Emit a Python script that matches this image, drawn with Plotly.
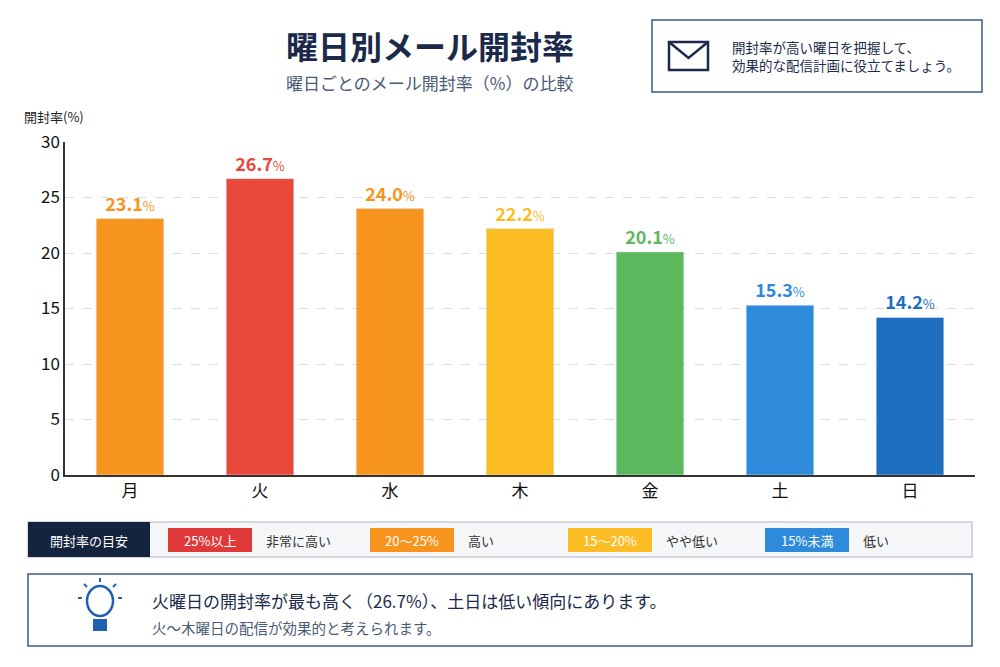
import plotly.graph_objects as go

days = ["月", "火", "水", "木", "金", "土", "日"]
rates = [23.1, 26.7, 24.0, 22.2, 20.1, 15.3, 14.2]
colors = ["#F7941D", "#E8473A", "#F7941D", "#FBBC24", "#5CB85C", "#2E8BDB", "#1E6FC0"]
legend_labels = ["25%以上", "20～25%", "15～20%", "15%未満"]
legend_desc = ["非常に高い", "高い", "やや低い", "低い"]
legend_colors = ["#E0393A", "#F7941D", "#FBBC24", "#2E8BDB"]

FONT = "Noto Sans CJK JP"
O = 8  # page offset of the figure in the screenshot
L, R, T, B, W, H = 57, 33, 134, 200, 1000, 667
PW, PH = W - L - R, H - T - B


def px(x):
    return (x - O - L) / PW


def py(y):
    return (H - B - (y - O)) / PH


fig = go.Figure(go.Bar(
    x=days, y=rates, marker_color=colors, width=0.52,
    text=[f"<b>{v:.1f}</b><span style='font-size:13px'>%</span>" for v in rates],
    textposition="outside", cliponaxis=False,
    textfont=dict(family=FONT, size=18, color=colors),
))

shapes = []
ann = []

# title and subtitle
ann.append(dict(text="<b>曜日別メール開封率</b>", x=px(430), y=py(45), xanchor="center", yanchor="middle",
                font=dict(family=FONT, size=32, color="#1B2A4A")))
ann.append(dict(text="曜日ごとのメール開封率（%）の比較", x=px(430), y=py(82), xanchor="center", yanchor="middle",
                font=dict(family=FONT, size=17, color="#4A5A75")))
ann.append(dict(text="開封率(%)", x=px(22), y=py(116), xanchor="left", yanchor="middle",
                font=dict(family=FONT, size=13, color="#222")))

# top-right note box
shapes.append(dict(type="rect", x0=px(652), x1=px(982), y0=py(20), y1=py(92), line=dict(color="#3A5A8C", width=1.5),
                   fillcolor="white", layer="below"))
shapes.append(dict(type="rect", x0=px(669), x1=px(708), y0=py(42), y1=py(70), line=dict(color="#1B2A4A", width=2.5)))
shapes.append(dict(type="path", path=f"M {px(669)},{py(42)} L {px(688.5)},{py(58)} L {px(708)},{py(42)}",
                   line=dict(color="#1B2A4A", width=2.5)))
ann.append(dict(text="開封率が高い曜日を把握して、<br>効果的な配信計画に役立てましょう。", x=px(730), y=py(56),
                xanchor="left", yanchor="middle", align="left",
                font=dict(family=FONT, size=13.5, color="#1B2A4A")))

# legend strip
shapes.append(dict(type="rect", x0=px(28), x1=px(972), y0=py(522), y1=py(557), line=dict(color="#C8CCD4", width=1.5),
                   fillcolor="#F5F6F8", layer="below"))
shapes.append(dict(type="rect", x0=px(28), x1=px(150), y0=py(522), y1=py(557), line=dict(width=0),
                   fillcolor="#14243F", layer="below"))
ann.append(dict(text="開封率の目安", x=px(89), y=py(540), xanchor="center", yanchor="middle",
                font=dict(family=FONT, size=13, color="white")))
lx = [168, 370, 568, 765]
for i, lab in enumerate(legend_labels):
    shapes.append(dict(type="rect", x0=px(lx[i]), x1=px(lx[i] + 84), y0=py(528), y1=py(552), line=dict(width=0),
                       fillcolor=legend_colors[i], layer="below"))
    ann.append(dict(text=lab, x=px(lx[i] + 42), y=py(540), xanchor="center", yanchor="middle",
                    font=dict(family=FONT, size=13, color="white")))
    ann.append(dict(text=legend_desc[i], x=px(lx[i] + 96), y=py(540), xanchor="left", yanchor="middle",
                    font=dict(family=FONT, size=13, color="#333")))

# insight box
shapes.append(dict(type="rect", x0=px(28), x1=px(972), y0=py(574), y1=py(646), line=dict(color="#3A5A8C", width=1.5),
                   fillcolor="white", layer="below"))
bc = "#2160B0"
shapes.append(dict(type="circle", x0=px(87), x1=px(113), y0=py(586), y1=py(616), line=dict(color=bc, width=2.5)))
shapes.append(dict(type="rect", x0=px(94), x1=px(106), y0=py(620), y1=py(630), line=dict(color=bc, width=2),
                   fillcolor=bc))
for (x0, y0, x1, y1) in [(100, 578, 100, 582), (84, 584, 87, 587), (116, 584, 113, 587), (78, 598, 82, 598), (118, 598, 122, 598)]:
    shapes.append(dict(type="line", x0=px(x0), x1=px(x1), y0=py(y0), y1=py(y1), line=dict(color=bc, width=2)))
ann.append(dict(text="火曜日の開封率が最も高く（26.7%）、土日は低い傾向にあります。", x=px(150), y=py(600),
                xanchor="left", yanchor="middle", font=dict(family=FONT, size=17, color="#1B2A4A")))
ann.append(dict(text="火～木曜日の配信が効果的と考えられます。", x=px(150), y=py(627),
                xanchor="left", yanchor="middle", font=dict(family=FONT, size=14.5, color="#4A5A75")))

for a in ann:
    a.update(xref="paper", yref="paper", showarrow=False)
for s in shapes:
    s.update(xref="paper", yref="paper")

fig.update_layout(
    width=W, height=H, margin=dict(l=L, r=R, t=T, b=B),
    plot_bgcolor="white", paper_bgcolor="white", showlegend=False,
    font=dict(family=FONT, color="#222"),
    shapes=shapes, annotations=ann, bargap=0.48,
    xaxis=dict(showline=True, linecolor="#333", linewidth=1.5, ticks="",
               tickfont=dict(family=FONT, size=17, color="#111")),
    yaxis=dict(range=[0, 30], dtick=5, showline=True, linecolor="#333", linewidth=1.5,
               gridcolor="#DDDDDD", griddash="dash", zeroline=False,
               tickfont=dict(family=FONT, size=17, color="#111")),
)

fig.write_html("out.html")
